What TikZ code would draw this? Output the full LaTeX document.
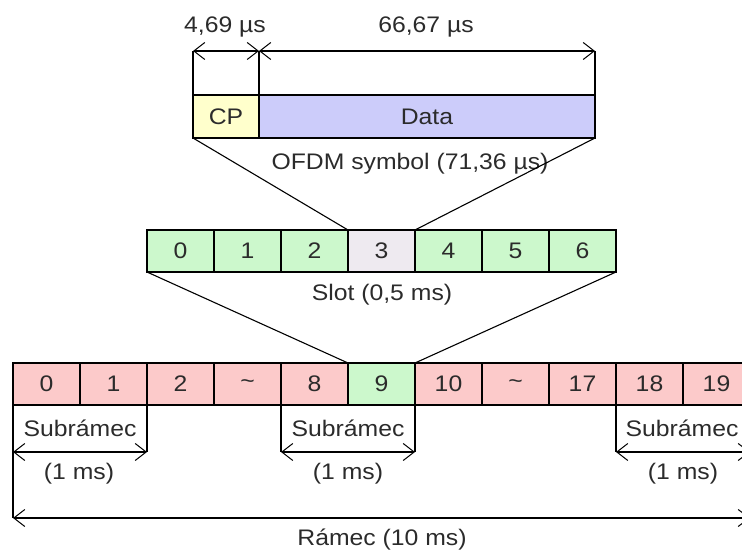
\documentclass[tikz,border=0pt]{standalone}
\usepackage{fontspec}
\setmainfont{Liberation Sans}[FakeStretch=1.1]
\usetikzlibrary{arrows.meta}
\definecolor{txt}{HTML}{2B2B2B}
\definecolor{cpfill}{HTML}{FFFFCC}
\definecolor{datafill}{HTML}{CCCCFA}
\definecolor{slotg}{HTML}{CCF8CC}
\definecolor{slotx}{HTML}{EEEAF0}
\definecolor{pk}{HTML}{FCCACA}
\definecolor{gr}{HTML}{CCF8CC}
\begin{document}
\begin{tikzpicture}[x=1pt,y=-1pt,
  lbl/.style={font=\fontsize{22.5}{26}\selectfont, text=txt, inner sep=0pt},
  cell/.style={draw=black, line width=1.2pt, minimum width=67pt, minimum height=42pt,
               inner sep=0pt, outer sep=0pt, lbl},
  tip/.tip={Straight Barb[length=11pt,width=17pt,line width=1pt]},
  dim/.style={line width=1.1pt, tip-tip},
  guide/.style={line width=1.1pt}]
\useasboundingbox (0,0) rectangle (742,553);
\clip (0,0) rectangle (742,553);

% OFDM symbol: cyclic prefix and data part
\node[cell, fill=cpfill, minimum width=66pt, minimum height=43pt] (cp) at (226,116.5) {CP};
\node[cell, fill=datafill, minimum width=336pt, minimum height=43pt] (data) at (427,116.5) {Data};
\node[lbl] (ofdm) at (410,164) {OFDM symbol (71,36 µs)};

% durations above the symbol
\coordinate (a1) at (193,51);
\coordinate (a2) at (259,51);
\coordinate (a3) at (595,51);
\draw[guide] (cp.north west) -- (a1);
\draw[guide] (cp.north east) -- (a2);
\draw[guide] (data.north east) -- (a3);
\draw[dim] (a1) -- (a2);
\draw[dim] (a2) -- (a3);
\node[lbl] (tcp) at (225,27) {4,69 µs};
\node[lbl] (tdata) at (426,27) {66,67 µs};

% slot of seven symbols
\foreach \i/\c in {0/slotg,1/slotg,2/slotg,3/slotx,4/slotg,5/slotg,6/slotg}
  \node[cell, fill=\c] (s\i) at ({180.5+67*\i},251) {\i};
\node[lbl] (slot) at (382,295) {Slot (0,5 ms)};

% radio frame of twenty slots
\foreach \i/\t/\c in {0/0/pk,1/1/pk,2/2/pk,3/\textasciitilde/pk,4/8/pk,5/9/gr,
                      6/10/pk,7/\textasciitilde/pk,8/17/pk,9/18/pk,10/19/pk}
  \node[cell, fill=\c] (f\i) at ({46.5+67*\i},384) {\t};

% zoom lines between levels
\draw[guide] (cp.south west) -- (s3.north west);
\draw[guide] (data.south east) -- (s3.north east);
\draw[guide] (s0.south west) -- (f5.north west);
\draw[guide] (s6.south east) -- (f5.north east);

% subframe and frame durations
\coordinate (b1) at (13,452);
\coordinate (b2) at (147,452);
\coordinate (b3) at (281,452);
\coordinate (b4) at (415,452);
\coordinate (b5) at (616,452);
\coordinate (b6) at (750,452);
\coordinate (r1) at (13,518);
\coordinate (r2) at (750,518);
\draw[guide] (f0.south west) -- (r1);
\draw[guide] (f1.south east) -- (b2);
\draw[guide] (f4.south west) -- (b3);
\draw[guide] (f5.south east) -- (b4);
\draw[guide] (f9.south west) -- (b5);
\draw[guide] (f10.south east) -- (r2);
\draw[dim] (b1) -- (b2);
\draw[dim] (b3) -- (b4);
\draw[dim] (b5) -- (b6);
\draw[dim] (r1) -- (r2);

\node[lbl] (sub1) at (80,428) {Subrámec};
\node[lbl] (sub2) at (348,428) {Subrámec};
\node[lbl] (sub3) at (682,428) {Subrámec};
\node[lbl] (ms1) at (79,474) {(1 ms)};
\node[lbl] (ms2) at (348,474) {(1 ms)};
\node[lbl] (ms3) at (683,474) {(1 ms)};
\node[lbl] (frame) at (382,540) {Rámec (10 ms)};
\end{tikzpicture}
\end{document}
